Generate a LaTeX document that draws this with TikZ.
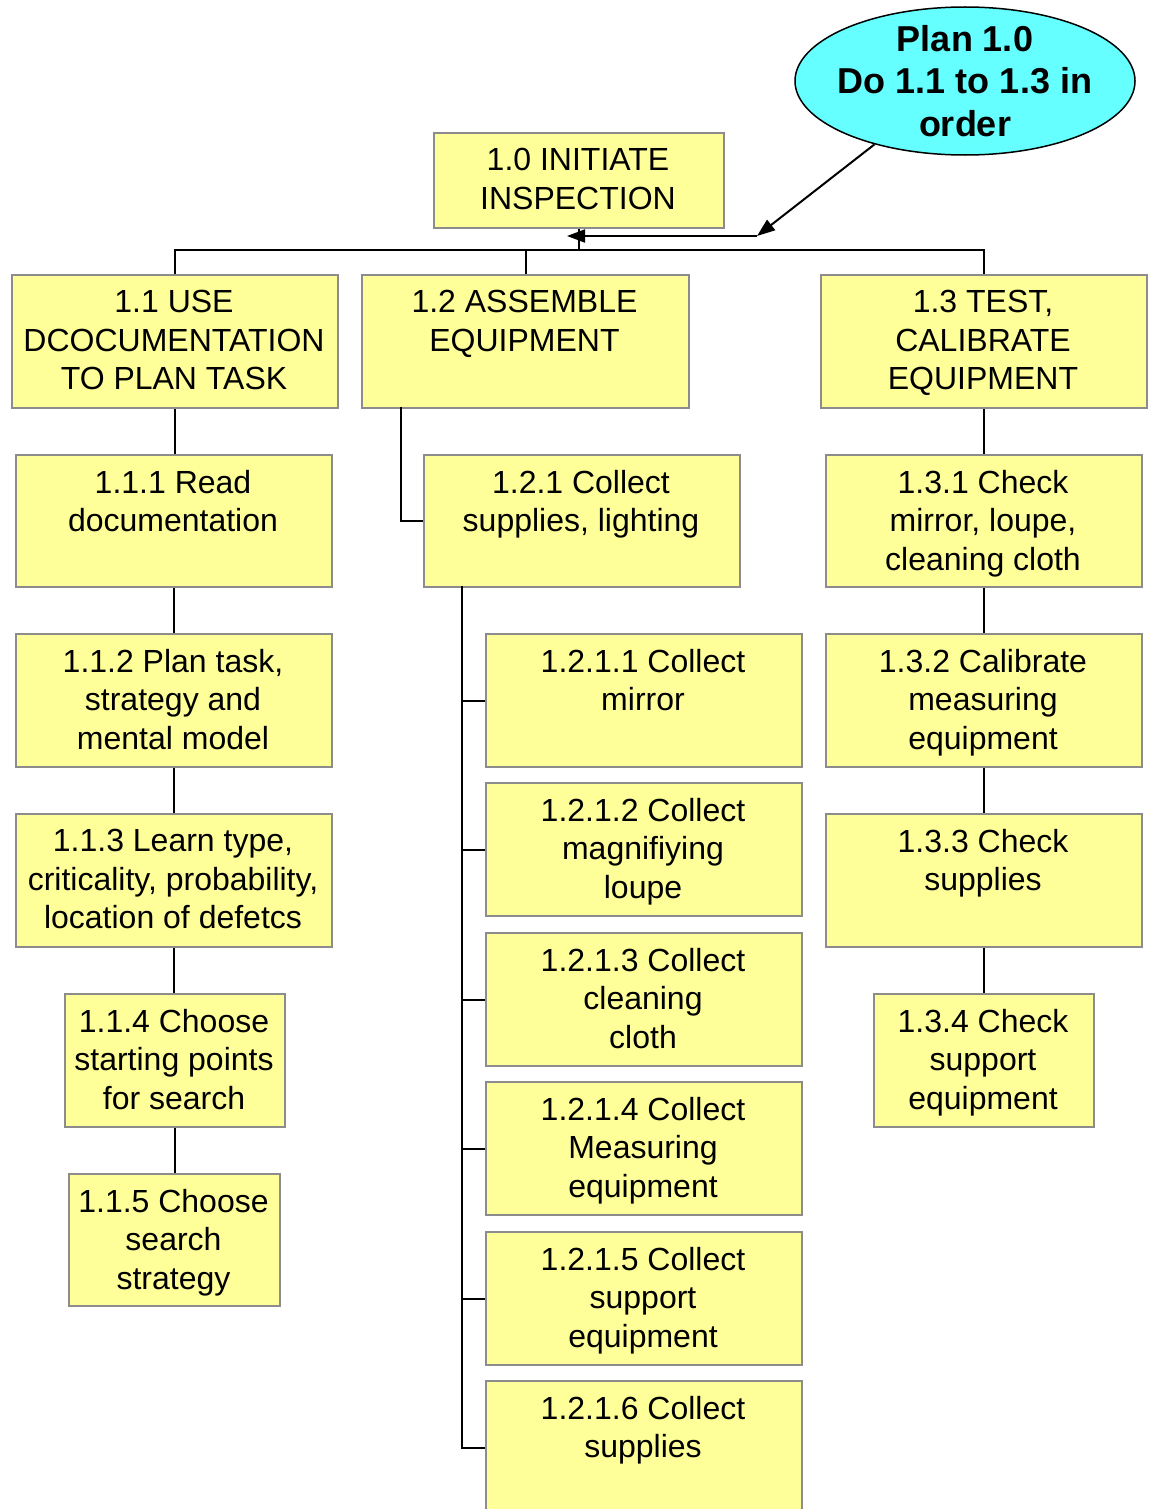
\documentclass[tikz,border=0pt]{standalone}
\usepackage{fontspec}
\setmainfont{Liberation Sans}
\usetikzlibrary{arrows.meta,shapes.geometric}
\definecolor{boxfill}{HTML}{FFFF99}
\definecolor{boxline}{HTML}{8C8C8C}
\definecolor{ellfill}{HTML}{66FFFF}
\tikzset{
  box/.style={draw=boxline, fill=boxfill, line width=2pt, inner sep=0pt, rectangle},
  lbl/.style={inner sep=0pt, align=center, font=\fontsize{32}{38.5}\selectfont},
  conn/.style={draw=black, line width=2pt},
  arr/.style={conn, -{Triangle[length=18pt,width=13pt]}},
}
\newcommand\mybox[6]{%
  \node[box, minimum width={#4-#2}, minimum height={#5-#3}, anchor=north west] (#1) at (#2,#3) {};
  \node[lbl, anchor=north] (#1t) at ({(#2+#4)/2},{#3+16}) {#6};
}
\begin{document}
\begin{tikzpicture}[x=1pt,y=-1pt]
\clip (0,0) rectangle (1148,1509);
\fill[white] (0,0) rectangle (1148,1509);

% ellipse
\node[ellipse, draw=black, line width=1.5pt, fill=ellfill, minimum width=340, minimum height=148, inner sep=0pt] (ell) at (965,81) {};
\node[inner sep=0pt, align=center, font=\fontsize{36}{42.5}\selectfont\bfseries] (ellt) at (965,81) {Plan 1.0\\Do 1.1 to 1.3 in\\order};

\mybox{n10}{433}{132}{723}{227}{1.0 INITIATE\\INSPECTION}
\mybox{n11}{11}{274}{337}{407}{1.1 USE\\DCOCUMENTATION\\TO PLAN TASK}
\mybox{n12}{361}{274}{688}{407}{1.2 ASSEMBLE\\EQUIPMENT}
\mybox{n13}{820}{274}{1146}{407}{1.3 TEST,\\CALIBRATE\\EQUIPMENT}

\mybox{n111}{15}{454}{331}{586}{1.1.1 Read\\documentation}
\mybox{n112}{15}{633}{331}{766}{1.1.2 Plan task,\\strategy and\\mental model}
\mybox{n113}{15}{813}{331}{946}{1.1.3 Learn type,\\criticality, probability,\\location of defetcs}
\mybox{n114}{64}{993}{284}{1126}{1.1.4 Choose\\starting points\\for search}
\mybox{n115}{68}{1173}{279}{1305}{1.1.5 Choose\\search\\strategy}

\mybox{n121}{423}{454}{739}{586}{1.2.1 Collect\\supplies, lighting}
\mybox{n1211}{485}{633}{801}{766}{1.2.1.1 Collect\\mirror}
\mybox{n1212}{485}{782}{801}{915}{1.2.1.2 Collect\\magnifiying\\loupe}
\mybox{n1213}{485}{932}{801}{1065}{1.2.1.3 Collect\\cleaning\\cloth}
\mybox{n1214}{485}{1081}{801}{1214}{1.2.1.4 Collect\\Measuring\\equipment}
\mybox{n1215}{485}{1231}{801}{1364}{1.2.1.5 Collect\\support\\equipment}
\mybox{n1216}{485}{1380}{801}{1513}{1.2.1.6 Collect\\supplies}

\mybox{n131}{825}{454}{1141}{586}{1.3.1 Check\\mirror, loupe,\\cleaning cloth}
\mybox{n132}{825}{633}{1141}{766}{1.3.2 Calibrate\\measuring\\equipment}
\mybox{n133}{825}{813}{1141}{946}{1.3.3 Check\\supplies}
\mybox{n134}{873}{993}{1093}{1126}{1.3.4 Check\\support\\equipment}

% bus
\coordinate (busL) at (174,250);
\draw[conn] (n11.north) -- (n11.north |- busL) -- (n13.north |- busL) -- (n13.north);
\draw[conn] (n10.south) -- (n10.south |- busL);
\draw[conn] (n12.north |- busL) -- (n12.north);

% plan arrow
\coordinate (ap) at (757,236);
\coordinate (aq) at (567,236);
\draw[arr] (ell.215) -- (ap);
\draw[arr] (ap) -- (aq);

% column 1
\draw[conn] (n11.south) -- (n11.south |- n111.north);
\draw[conn] (n111.south) -- (n111.south |- n112.north);
\draw[conn] (n112.south) -- (n112.south |- n113.north);
\draw[conn] (n113.south) -- (n113.south |- n114.north);
\draw[conn] (n114.south) -- (n114.south |- n115.north);

% column 2
\coordinate (c12) at (401,407);
\draw[conn] (c12) |- (n121.west);
\coordinate (sp) at (462,586);
\draw[conn] (sp) |- (n1216.west);
\foreach \n in {n1211,n1212,n1213,n1214,n1215}{
  \draw[conn] (\n.west -| sp) -- (\n.west);
}

% column 3
\draw[conn] (n13.south) -- (n13.south |- n131.north);
\draw[conn] (n131.south) -- (n131.south |- n132.north);
\draw[conn] (n132.south) -- (n132.south |- n133.north);
\draw[conn] (n133.south) -- (n133.south |- n134.north);
\end{tikzpicture}
\end{document}
